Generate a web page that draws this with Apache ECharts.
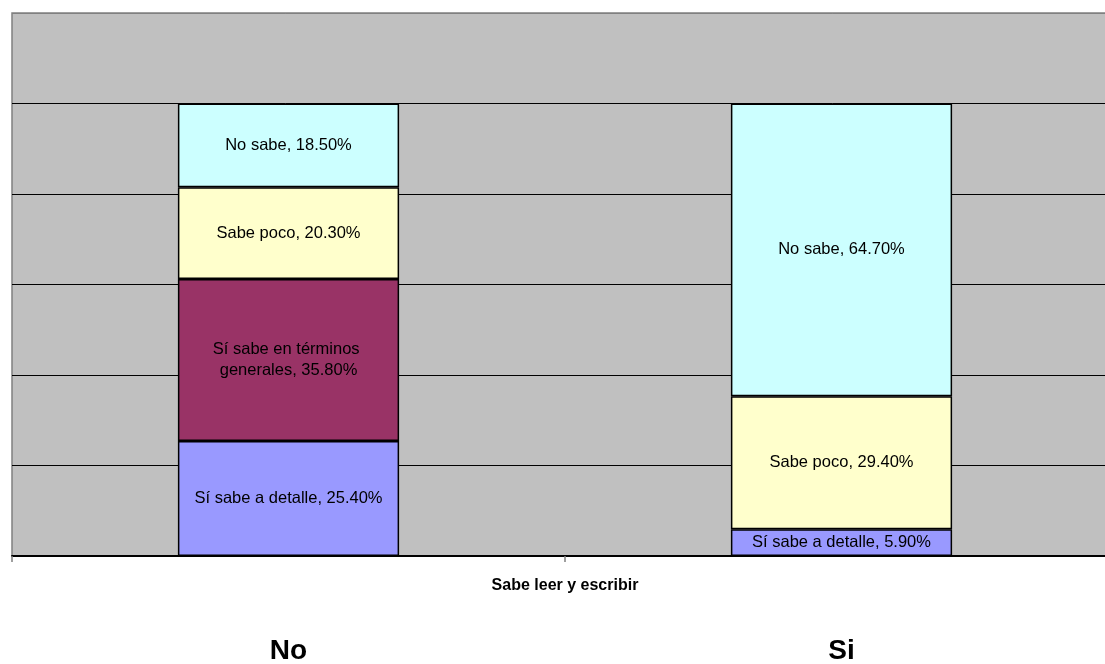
<!DOCTYPE html>
<html>
<head>
<meta charset="utf-8">
<script src="https://cdn.jsdelivr.net/npm/echarts@6/dist/echarts.min.js"></script>
<style>
  html, body { margin: 0; padding: 0; background: #ffffff; }
  #chart { width: 1105px; height: 664px; }
</style>
</head>
<body>
<div id="chart"></div>
<script>
// Respuestas agrupadas por "Sabe leer y escribir"
const categories = ['No', 'Si'];
const seriesNames = ['Sí sabe a detalle', 'Sí sabe en términos generales', 'Sabe poco', 'No sabe'];
const detalle = [25.4, 5.9];
const generales = [35.8, null];
const poco = [20.3, 29.4];
const noSabe = [18.5, 64.7];
const seriesColors = ['#9999FF', '#993366', '#FFFFCC', '#CCFFFF'];

const values = [detalle, generales, poco, noSabe];

const chart = echarts.init(document.getElementById('chart'), null, { renderer: 'canvas' });

const series = seriesNames.map((name, i) => ({
  name: name,
  type: 'bar',
  stack: 'total',
  barWidth: '40%',
  data: values[i].map(v => (v == null ? '-' : v)),
  itemStyle: { color: seriesColors[i], borderColor: '#000000', borderWidth: 1.5 },
  label: {
    show: true,
    position: 'inside',
    color: '#000000',
    fontFamily: 'Arial, "Liberation Sans", sans-serif',
    fontSize: 16.5,
    width: 205,
    overflow: 'break',
    lineHeight: 21,
    formatter: p => p.seriesName + ', ' + p.value.toFixed(2) + '%'
  },
  emphasis: { disabled: true }
}));

chart.setOption({
  animation: false,
  backgroundColor: '#ffffff',
  grid: {
    left: 12,
    top: 13,
    width: 1106,
    height: 543,
    outerBoundsMode: 'none',
    containLabel: false,
    show: true,
    backgroundColor: '#C0C0C0',
    borderColor: '#808080',
    borderWidth: 1.5
  },
  xAxis: {
    type: 'category',
    data: categories,
    name: 'Sabe leer y escribir',
    nameLocation: 'middle',
    nameGap: 22,
    nameMoveOverlap: false,
    nameTextStyle: {
      fontFamily: 'Arial, "Liberation Sans", sans-serif',
      fontWeight: 'bold',
      fontSize: 16,
      color: '#000000'
    },
    axisLine: { lineStyle: { color: '#000000', width: 2 } },
    axisTick: { show: true, length: 6, lineStyle: { color: '#808080', width: 1.5 } },
    axisLabel: {
      margin: 81,
      fontFamily: 'Arial, "Liberation Sans", sans-serif',
      fontWeight: 'bold',
      fontSize: 28,
      color: '#000000'
    }
  },
  yAxis: {
    type: 'value',
    min: 0,
    max: 120,
    interval: 20,
    axisLabel: { show: false },
    axisLine: { show: false },
    axisTick: { show: false },
    splitLine: {
      lineStyle: {
        color: ['#000000', '#000000', '#000000', '#000000', '#000000', '#000000', '#808080'],
        width: 1
      }
    }
  },
  series: series
});
</script>
</body>
</html>
